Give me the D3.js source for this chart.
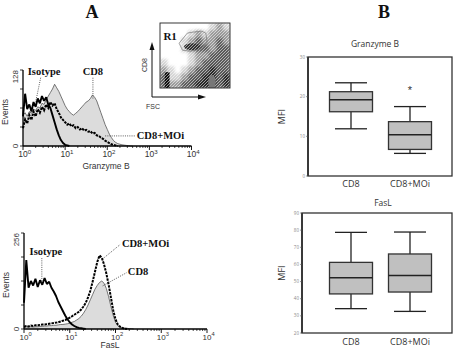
<!DOCTYPE html>
<html>
<head>
<meta charset="utf-8">
<script src="https://cdn.jsdelivr.net/npm/d3@7"></script>
<style>
body { margin: 0; background: #fff; }
svg { display: block; }
.serif { font-family: "Liberation Serif", "DejaVu Serif", serif; font-weight: bold; fill: #111; }
.sans { font-family: "Liberation Sans", Arial, sans-serif; fill: #333; }
.boxf { font-family: "Open Sans", "Noto Sans", sans-serif; fill: #333; }
</style>
</head>
<body>
<svg id="fig" width="457" height="352"></svg>
<script>
// ---- histogram data: counts per 0.05-decade bin, starting at 10^0 ----
const binStep = 0.05;
const gzIsotype = [50, 88, 62, 70, 58, 74, 66, 80, 72, 84, 76, 82, 70, 64, 52, 40, 28, 18, 10, 5, 2, 1, 0];
const gzCD8 = [52, 56, 50, 58, 55, 62, 60, 66, 64, 72, 70, 78, 84, 90, 96, 104, 98, 92, 84, 76, 68, 62, 58, 54, 52, 55,
  58, 62, 66, 70, 74, 76, 80, 86, 82, 76, 66, 56, 46, 36, 28, 20, 14, 9, 6, 4, 3, 2, 1.5, 1, 0.5, 0, 0];
const gzMOi = [30, 45, 38, 52, 44, 58, 50, 62, 56, 66, 60, 70, 64, 74, 68, 72, 62, 56, 48, 44, 40, 36, 38, 33, 35, 30,
  32, 28, 30, 26, 27, 24, 25, 21, 22, 18, 17, 14, 12, 9, 7, 5, 3, 2, 1, 0];

const flIsotype = [70, 184, 110, 128, 116, 134, 112, 130, 118, 136, 120, 126, 110, 100, 88, 72, 60, 48, 36, 26, 18, 12,
  8, 5, 3, 2, 1, 0];
const flCD8 = [4, 6, 5, 6, 5, 6, 6, 7, 7, 8, 8, 9, 9, 10, 10, 11, 12, 12, 13, 14, 16, 18, 20, 24, 28, 34, 42, 52, 64,
  78, 92, 106, 116, 124, 128, 122, 108, 86, 60, 36, 18, 9, 5, 3, 2, 2, 1, 1, 0];
const flMOi = [6, 8, 7, 9, 8, 10, 10, 11, 12, 12, 13, 14, 15, 16, 17, 18, 20, 22, 24, 27, 30, 34, 38, 42, 46, 52, 60,
  70, 84, 102, 126, 152, 178, 196, 190, 172, 148, 118, 84, 50, 26, 12, 6, 3, 1, 0];

const decades = [1, 10, 100, 1000, 10000];
const decadeExp = ["0", "1", "2", "3", "4"];

// ---- inset dot plot (FSC vs CD8), channel units 0-1024 ----
const scatterDensity = [
  [0, 0, 0, 0, 0, 0, 0, 1, 2, 1],
  [0, 0, 0, 0, 1, 2, 1, 2, 2, 2],
  [0, 0, 0, 1, 2, 3, 2, 2, 3, 2],
  [0, 0, 0, 1, 2, 3, 3, 2, 3, 3],
  [0, 0, 0, 0, 1, 2, 2, 3, 3, 3],
  [1, 0, 0, 0, 1, 2, 3, 3, 3, 3],
  [2, 1, 0, 1, 2, 3, 3, 4, 3, 3],
  [3, 1, 1, 2, 3, 3, 4, 4, 3, 4],
  [3, 2, 2, 3, 3, 4, 4, 4, 3, 4]
];
const gateR1 = [[280, 705], [400, 865], [480, 880], [610, 895], [670, 865], [690, 725], [615, 615], [440, 580], [330, 595]];
const blobDark = { fsc: 470, cd8: 650, rx: 120, ry: 55 };
const blobGray = { fsc: 760, cd8: 95, rx: 55, ry: 110 };
const lowFscBar = { fsc0: 70, fsc1: 140, cd80: 0, cd81: 250 };

// ---- box plots ----
const groups = ["CD8", "CD8+MOi"];
// [min, q1, median, q3, max]
const gzbStats = [[11.9, 16.2, 19.2, 21.25, 23.5], [5.7, 6.7, 10.4, 13.7, 17.5]];
const gzbOutliers = [[], [21.9]];
const gzbTicks = [0, 10, 20, 30];
const fasStats = [[34.2, 42.8, 52.3, 61.2, 78.7], [32.6, 43.9, 53.6, 66.1, 78.9]];
const fasOutliers = [[], []];
const fasTicks = [20, 30, 40, 50, 60, 70, 80, 90];

const svg = d3.select("#fig");
svg.append("rect").attr("width", 457).attr("height", 352).attr("fill", "#fff");

const defs = svg.append("defs");
defs.append("filter").attr("id", "soft").attr("x", "-5%").attr("y", "-5%").attr("width", "110%").attr("height", "110%")
  .append("feGaussianBlur").attr("stdDeviation", 1.6);
// speckle overlay so the dot plot looks grainy rather than smooth
const speck = defs.append("pattern").attr("id", "speck").attr("patternUnits", "userSpaceOnUse")
  .attr("width", 3).attr("height", 3);
[[0, 0], [2, 1], [1, 2]].forEach(d => speck.append("rect").attr("x", d[0]).attr("y", d[1])
  .attr("width", 1).attr("height", 1).attr("fill", "#fff").attr("opacity", 0.55));
const densColor = ["#fff", "#d4d4d4", "#9a9a9a", "#5a5a5a", "#262626"];

// panel letters
svg.append("text").attr("class", "serif").attr("x", 92).attr("y", 18).attr("text-anchor", "middle")
  .attr("font-size", 18).text("A");
svg.append("text").attr("class", "serif").attr("x", 384).attr("y", 18).attr("text-anchor", "middle")
  .attr("font-size", 18).text("B");

function histogram(o) {
  const g = svg.append("g");
  const x = d3.scaleLog().domain([1, 1e4]).range([o.x0, o.x1]);
  const y = d3.scaleLinear().domain([0, o.ymax]).range([o.yb, o.yt]);
  const bx = (d, i) => x(Math.pow(10, i * binStep));

  g.append("path").datum(o.cd8).attr("fill", "#dcdcdc")
    .attr("d", d3.area().x(bx).y0(y(0)).y1(d => y(d)));
  g.append("path").datum(o.cd8).attr("fill", "none").attr("stroke", "#555").attr("stroke-width", 0.8)
    .attr("d", d3.line().x(bx).y(d => y(d)));
  g.append("path").datum(o.iso).attr("fill", "none").attr("stroke", "#000").attr("stroke-width", 1.9)
    .attr("stroke-linejoin", "bevel").attr("d", d3.line().x(bx).y(d => y(d)));
  g.append("path").datum(o.moi).attr("fill", "none").attr("stroke", "#000").attr("stroke-width", 2)
    .attr("stroke-dasharray", "2.5,1").attr("d", d3.line().x(bx).y(d => y(d)));

  // axes
  g.append("line").attr("x1", o.x0).attr("x2", o.x0).attr("y1", o.yb).attr("y2", o.yt)
    .attr("stroke", "#000").attr("stroke-width", 1.3);
  g.append("line").attr("x1", o.x0).attr("x2", o.x1).attr("y1", o.yb).attr("y2", o.yb)
    .attr("stroke", "#000").attr("stroke-width", 1.3);
  d3.range(0, 5).forEach(k => {
    const v = o.ymax * k / 4;
    g.append("line").attr("x1", o.x0 - 3).attr("x2", o.x0).attr("y1", y(v)).attr("y2", y(v))
      .attr("stroke", "#000").attr("stroke-width", 0.8);
  });
  [0, o.ymax].forEach(v => {
    g.append("text").attr("class", "sans").attr("font-size", 8)
      .attr("transform", `translate(${o.x0 - 5},${y(v)}) rotate(-90)`)
      .attr("text-anchor", v === 0 ? "middle" : "end").text(v);
  });
  g.append("text").attr("class", "sans").attr("font-size", 8.5)
    .attr("transform", `translate(${o.x0 - 15},${(o.yb + o.yt) / 2 + 4}) rotate(-90)`)
    .attr("text-anchor", "middle").text("Events");

  decades.forEach((d, i) => {
    g.append("line").attr("x1", x(d)).attr("x2", x(d)).attr("y1", o.yb).attr("y2", o.yb + 4)
      .attr("stroke", "#000").attr("stroke-width", 0.9);
    if (i < decades.length - 1) {
      d3.range(2, 10).forEach(m => {
        g.append("line").attr("x1", x(d * m)).attr("x2", x(d * m)).attr("y1", o.yb).attr("y2", o.yb + 2)
          .attr("stroke", "#000").attr("stroke-width", 0.7);
      });
    }
    const t = g.append("text").attr("class", "sans").attr("font-size", o.tickFont)
      .attr("x", x(d) - o.tickFont * 0.55).attr("y", o.yb + o.tickFont + 2.5);
    t.append("tspan").text("10");
    t.append("tspan").attr("dy", -o.tickFont * 0.4).attr("font-size", o.tickFont * 0.72).text(decadeExp[i]);
  });
  g.append("text").attr("class", "sans").attr("font-size", 8.5).attr("x", o.titleX).attr("y", o.titleY)
    .attr("text-anchor", "middle").text(o.title);

  o.notes.forEach(n => {
    g.append("line").attr("x1", x(Math.pow(10, n.from[0]))).attr("y1", y(n.from[1]))
      .attr("x2", x(Math.pow(10, n.to[0]))).attr("y2", y(n.to[1]))
      .attr("stroke", "#333").attr("stroke-width", 0.8).attr("stroke-dasharray", "1,1.2");
    g.append("text").attr("class", "serif").attr("font-size", 10.5)
      .attr("x", x(Math.pow(10, n.at[0]))).attr("y", y(n.at[1]))
      .attr("text-anchor", n.anchor).text(n.text);
  });
}

histogram({
  x0: 23, x1: 191.5, yb: 146, yt: 70, ymax: 128, tickFont: 8.5,
  iso: gzIsotype, cd8: gzCD8, moi: gzMOi,
  title: "Granzyme B", titleX: 106, titleY: 169,
  notes: [
    { text: "Isotype", at: [0.5, 120], anchor: "middle", from: [0.42, 115], to: [0.3, 74] },
    { text: "CD8", at: [1.66, 120], anchor: "middle", from: [1.66, 115], to: [1.66, 78] },
    { text: "CD8+MOi", at: [2.7, 12], anchor: "start", from: [1.95, 17], to: [2.68, 17] }
  ]
});

histogram({
  x0: 24, x1: 207, yb: 329, yt: 233, ymax: 256, tickFont: 8,
  iso: flIsotype, cd8: flCD8, moi: flMOi,
  title: "FasL", titleX: 110, titleY: 348,
  notes: [
    { text: "Isotype", at: [0.48, 197], anchor: "middle", from: [0.39, 189], to: [0.39, 123] },
    { text: "CD8+MOi", at: [2.14, 218], anchor: "start", from: [1.72, 187], to: [2.1, 225] },
    { text: "CD8", at: [2.27, 144], anchor: "start", from: [1.72, 115], to: [2.24, 150] }
  ]
});

// ---- inset dot plot ----
(function inset() {
  const g = svg.append("g");
  const ix = d3.scaleLinear().domain([0, 1024]).range([160, 230]);
  const iy = d3.scaleLinear().domain([0, 1024]).range([88, 23]);
  defs.append("clipPath").attr("id", "insetClip").append("rect")
    .attr("x", 160).attr("y", 23).attr("width", 70).attr("height", 65);
  const cloud = g.append("g").attr("clip-path", "url(#insetClip)");
  const dens = cloud.append("g").attr("filter", "url(#soft)");
  const nr = scatterDensity.length, nc = scatterDensity[0].length;
  scatterDensity.forEach((row, r) => row.forEach((lvl, c) => {
    if (!lvl) return;
    const cd8Top = 1024 * (nr - r) / nr, cd8Bot = 1024 * (nr - r - 1) / nr;
    dens.append("rect").attr("x", ix(1024 * c / nc)).attr("y", iy(cd8Top))
      .attr("width", ix(1024 * (c + 1) / nc) - ix(1024 * c / nc) + 0.5).attr("height", iy(cd8Bot) - iy(cd8Top) + 0.5)
      .attr("fill", densColor[lvl]);
  }));
  cloud.append("rect").attr("x", ix(lowFscBar.fsc0)).attr("y", iy(lowFscBar.cd81))
    .attr("width", ix(lowFscBar.fsc1) - ix(lowFscBar.fsc0)).attr("height", iy(lowFscBar.cd80) - iy(lowFscBar.cd81))
    .attr("fill", "#111");
  cloud.append("ellipse").attr("cx", ix(blobDark.fsc)).attr("cy", iy(blobDark.cd8))
    .attr("rx", ix(blobDark.rx) - ix(0)).attr("ry", iy(0) - iy(blobDark.ry)).attr("fill", "#333");
  cloud.append("rect").attr("x", 160).attr("y", 23).attr("width", 70).attr("height", 65).attr("fill", "url(#speck)");
  cloud.append("ellipse").attr("cx", ix(blobGray.fsc)).attr("cy", iy(blobGray.cd8))
    .attr("rx", ix(blobGray.rx) - ix(0)).attr("ry", iy(0) - iy(blobGray.ry)).attr("fill", "#777");
  g.append("path").datum(gateR1).attr("fill", "none").attr("stroke", "#777").attr("stroke-width", 0.7)
    .attr("d", d3.line().x(d => ix(d[0])).y(d => iy(d[1])).curve(d3.curveLinearClosed));
  g.append("rect").attr("x", 160).attr("y", 23).attr("width", 70).attr("height", 65)
    .attr("fill", "none").attr("stroke", "#222").attr("stroke-width", 0.9);
  g.append("text").attr("class", "serif").attr("font-weight", "normal").attr("font-size", 11)
    .attr("x", ix(50)).attr("y", iy(760)).text("R1");

  // axis arrows
  const ax = 152, ay = 97;
  g.append("line").attr("x1", ax).attr("y1", ay).attr("x2", ax).attr("y2", 48).attr("stroke", "#111").attr("stroke-width", 1);
  g.append("path").attr("d", `M${ax - 2.5},${50} L${ax},${42} L${ax + 2.5},${50} Z`).attr("fill", "#111");
  g.append("line").attr("x1", ax).attr("y1", ay).attr("x2", 200).attr("y2", ay).attr("stroke", "#111").attr("stroke-width", 1);
  g.append("path").attr("d", `M${198},${ay - 2.5} L${206},${ay} L${198},${ay + 2.5} Z`).attr("fill", "#111");
  g.append("text").attr("class", "sans").attr("font-size", 7)
    .attr("transform", `translate(${147},${65}) rotate(-90)`).attr("text-anchor", "middle").text("CD8");
  g.append("text").attr("class", "sans").attr("font-size", 7).attr("x", 153).attr("y", 109)
    .attr("text-anchor", "middle").text("FSC");
})();

// ---- box plots ----
function boxPlot(o) {
  const g = svg.append("g");
  const x = d3.scalePoint().domain(groups).range([351, 410]);
  const y = d3.scaleLinear().domain(o.domain).range([o.yb, o.yt]);
  const bw = 43, cw = 32;

  g.append("rect").attr("x", o.x0).attr("y", o.yt).attr("width", o.x1 - o.x0).attr("height", o.yb - o.yt)
    .attr("fill", "none").attr("stroke", "#333").attr("stroke-width", 1.3);
  g.append("line").attr("x1", o.x0).attr("x2", o.x0).attr("y1", o.yt).attr("y2", o.yb)
    .attr("stroke", "#333").attr("stroke-width", 1.8);

  o.ticks.forEach(t => {
    g.append("line").attr("x1", o.x0 - 2).attr("x2", o.x0).attr("y1", y(t)).attr("y2", y(t))
      .attr("stroke", "#555").attr("stroke-width", 0.6);
    g.append("text").attr("class", "boxf").attr("font-size", 4.5).style("fill", "#888")
      .attr("x", o.x0 - 3).attr("y", y(t) + 1.5).attr("text-anchor", "end").text(t);
  });

  groups.forEach((grp, i) => {
    const s = o.stats[i], cx = x(grp);
    g.append("line").attr("x1", cx).attr("x2", cx).attr("y1", y(s[0])).attr("y2", y(s[4]))
      .attr("stroke", "#222").attr("stroke-width", 1.3);
    [s[0], s[4]].forEach(v => g.append("line").attr("x1", cx - cw / 2).attr("x2", cx + cw / 2)
      .attr("y1", y(v)).attr("y2", y(v)).attr("stroke", "#222").attr("stroke-width", 1.3));
    g.append("rect").attr("x", cx - bw / 2).attr("y", y(s[3])).attr("width", bw).attr("height", y(s[1]) - y(s[3]))
      .attr("fill", "#c0c0c0").attr("stroke", "#333").attr("stroke-width", 1.3);
    g.append("line").attr("x1", cx - bw / 2).attr("x2", cx + bw / 2).attr("y1", y(s[2])).attr("y2", y(s[2]))
      .attr("stroke", "#222").attr("stroke-width", 1.5);
    o.outliers[i].forEach(v => g.append("text").attr("x", cx).attr("y", y(v) + 5)
      .attr("text-anchor", "middle").attr("font-size", 11).attr("font-family", "Liberation Sans, sans-serif")
      .attr("fill", "#333").text("*"));
    g.append("text").attr("class", "boxf").attr("font-size", 9).attr("x", cx).attr("y", o.labelY)
      .attr("text-anchor", "middle").text(grp);
  });

  g.append("text").attr("class", "boxf").attr("font-size", 8.5).attr("x", o.titleX).attr("y", o.titleY)
    .attr("text-anchor", "middle").text(o.title);
  g.append("text").attr("class", "boxf").attr("font-size", 9)
    .attr("transform", `translate(${285},${(o.yt + o.yb) / 2}) rotate(-90)`)
    .attr("text-anchor", "middle").text("MFI");
}

boxPlot({ x0: 308, x1: 452, yt: 57, yb: 176, domain: [0, 30], ticks: gzbTicks,
  stats: gzbStats, outliers: gzbOutliers, title: "Granzyme B", titleX: 375, titleY: 47, labelY: 187 });
boxPlot({ x0: 302, x1: 452, yt: 213, yb: 333, domain: [20, 90], ticks: fasTicks,
  stats: fasStats, outliers: fasOutliers, title: "FasL", titleX: 383, titleY: 206, labelY: 345 });
</script>
</body>
</html>
